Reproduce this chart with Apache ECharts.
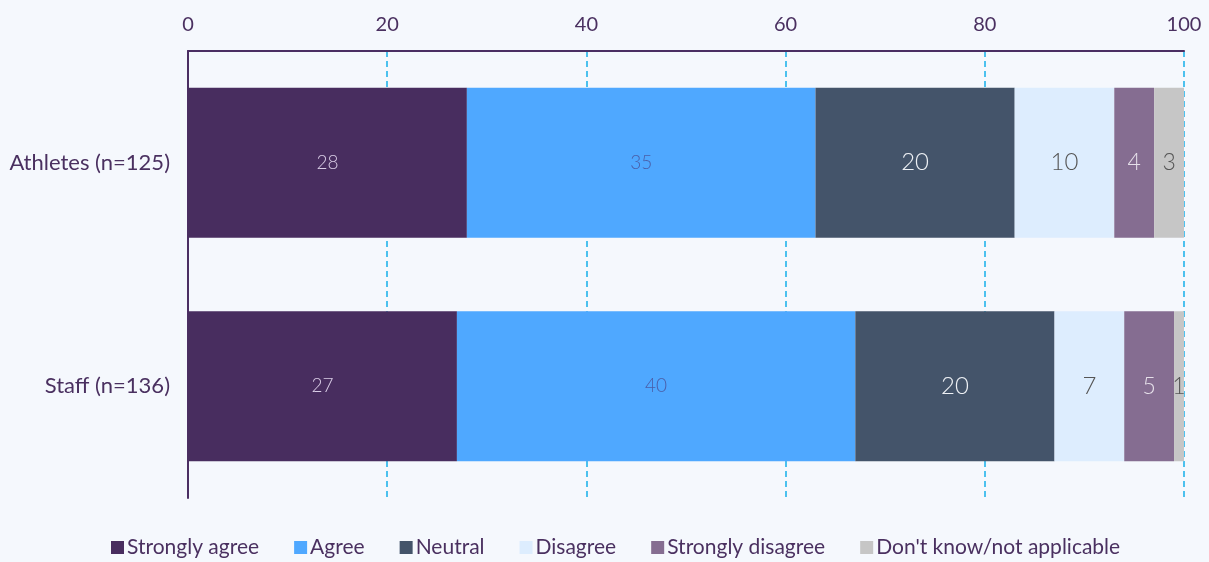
<!DOCTYPE html>
<html><head><meta charset="utf-8">
<script src="https://cdn.jsdelivr.net/npm/echarts@6/dist/echarts.min.js"></script>
<style>html,body{margin:0;padding:0;background:#f5f8fd;}#c{width:1209px;height:562px;}</style>
</head><body><div id="c"></div>
<script>
const categories = ['Athletes (n=125)', 'Staff (n=136)'];
const stronglyAgree = [28, 27];
const agree = [35, 40];
const neutral = [20, 20];
const disagree = [10, 7];
const stronglyDisagree = [4, 5];
const dontKnow = [3, 1];
const xTicks = [0, 20, 40, 60, 80, 100];

const seriesDefs = [
  {name: 'Strongly agree', data: stronglyAgree, color: '#482d5f', label: {color: '#d9cde6', fontSize: 19}},
  {name: 'Agree', data: agree, color: '#4fa8ff', label: {color: '#4a5ea8', fontSize: 19}},
  {name: 'Neutral', data: neutral, color: '#44546a', label: {color: '#eef1f5', fontSize: 24}},
  {name: 'Disagree', data: disagree, color: '#ddedfe', label: {color: '#555555', fontSize: 24}},
  {name: 'Strongly disagree', data: stronglyDisagree, color: '#856d91', label: {color: '#e6e0ea', fontSize: 23}},
  {name: "Don't know/not applicable", data: dontKnow, color: '#c6c6c6', label: {color: '#555555', fontSize: 23}}
];

const chart = echarts.init(document.getElementById('c'));
chart.setOption({
  backgroundColor: '#f5f8fd',
  textStyle: {fontFamily: 'Lato'},
  grid: {left: 188, right: 25, top: 51, bottom: 64, containLabel: false},
  xAxis: {
    type: 'value', position: 'top', min: 0, max: 100, interval: 20,
    axisLine: {show: true, lineStyle: {color: '#4b2e63', width: 2}},
    axisTick: {show: false},
    axisLabel: {color: '#4a3060', fontSize: 20, fontFamily: 'Lato', margin: 16,
      formatter: v => xTicks.includes(v) ? String(v) : ''},
    splitLine: {show: true, lineStyle: {color: '#14aee9', type: [6, 4], width: 1.5}}
  },
  yAxis: {
    type: 'category', data: categories, inverse: true,
    axisLine: {show: true, lineStyle: {color: '#4b2e63', width: 2}},
    axisTick: {show: false},
    axisLabel: {color: '#4a3060', fontSize: 22, fontFamily: 'Lato', margin: 18}
  },
  legend: {
    bottom: -1, left: 106, icon: 'rect', itemWidth: 13, itemHeight: 13, itemGap: 35,
    textStyle: {color: '#4a3060', fontSize: 21, fontFamily: 'Lato', padding: [0, 0, 0, -2]},
    data: seriesDefs.map(s => s.name)
  },
  series: seriesDefs.map(s => ({
    name: s.name, type: 'bar', stack: 'total', data: s.data, barWidth: 150,
    itemStyle: {color: s.color},
    label: {show: true, position: 'inside', fontFamily: 'Lato', fontWeight: 300,
      color: s.label.color, fontSize: s.label.fontSize},
    emphasis: {disabled: true}
  })),
  animation: false
});
</script></body></html>
